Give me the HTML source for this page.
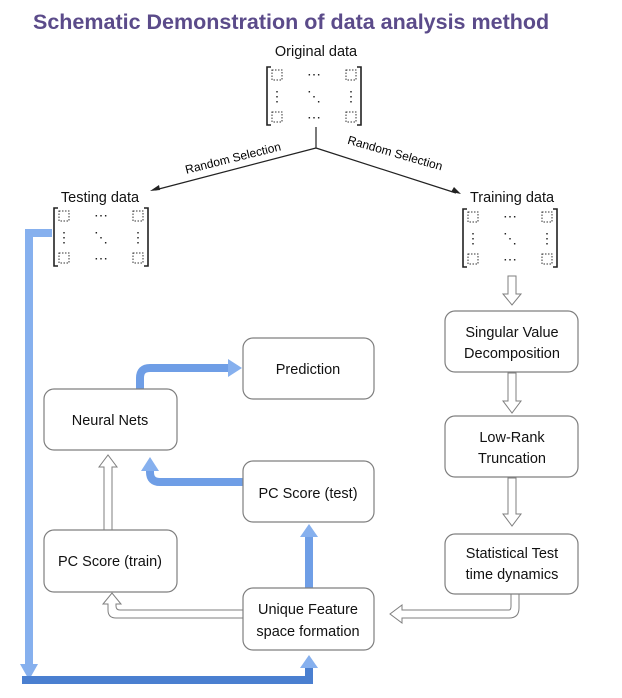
<!DOCTYPE html>
<html><head><meta charset="utf-8"><style>
html,body{margin:0;padding:0;background:#fff;}
svg{display:block;font-family:"Liberation Sans",sans-serif;}
.bx{fill:#fff;stroke:#7f7f7f;stroke-width:1.2;}
.t{font-size:14.5px;fill:#111;text-anchor:middle;}
.ho{fill:#fff;stroke:#7f7f7f;stroke-width:1;}
.bl{fill:none;stroke:#6f9ee6;stroke-width:8;}
</style></head><body>
<svg width="622" height="698" viewBox="0 0 622 698">
<defs>
<g id="m">
<path d="M5 0 H1 V58 H5 M91 0 H95 V58 H91" fill="none" stroke="#222" stroke-width="1.6"/>
<g fill="none" stroke="#333" stroke-width="1" stroke-dasharray="1.5,1.5">
<rect x="6" y="3" width="10" height="10"/><rect x="80" y="3" width="10" height="10"/>
<rect x="6" y="45" width="10" height="10"/><rect x="80" y="45" width="10" height="10"/>
</g>
<g fill="#222" font-size="14" text-anchor="middle">
<text x="48" y="12">⋯</text><text x="48" y="55">⋯</text>
<text x="11" y="34">⋮</text><text x="85" y="34">⋮</text><text x="48" y="34">⋱</text>
</g>
</g>
</defs>
<text x="33" y="29" font-size="21.5" font-weight="bold" fill="#5b4b8a">Schematic Demonstration of data analysis method</text>
<text x="316" y="56" class="t">Original data</text>
<use href="#m" x="266" y="67"/>
<text x="100" y="202" class="t">Testing data</text>
<use href="#m" x="53" y="208"/>
<text x="512" y="202" class="t">Training data</text>
<use href="#m" x="462" y="209"/>
<path d="M316 127 V148 L155 190 M316 148 L456 193" stroke="#222" stroke-width="1.2" fill="none"/>
<path d="M150 191 l9 -6 l1 5 z M461 194 l-10 -2 l3 -5 z" fill="#222"/>
<text transform="translate(234,162) rotate(-14)" font-size="12" text-anchor="middle">Random Selection</text>
<text transform="translate(394,157) rotate(16)" font-size="12" text-anchor="middle">Random Selection</text>
<!-- blue connectors -->
<path class="bl" d="M52 233 H29 V668" style="stroke:#86b0ee"/>
<path d="M20 664 H38 L29 680 Z" fill="#86b0ee"/>
<path class="bl" d="M22 680 H309 V668" style="stroke:#4a7fd0"/>
<path d="M300 668 H318 L309 655 Z" fill="#86b0ee"/>
<path class="bl" d="M309 588 V535"/>
<path d="M300 537 H318 L309 524 Z" fill="#86b0ee"/>
<path class="bl" d="M243 482 H160 Q150 482 150 472 V470"/>
<path d="M141 471 H159 L150 457 Z" fill="#86b0ee"/>
<path class="bl" d="M140 389 V378 Q140 368 150 368 H229"/>
<path d="M228 359 V377 L242 368 Z" fill="#86b0ee"/>
<!-- hollow arrows -->
<path class="ho" d="M508 276 H516 V294 H521 L512 305 L503 294 H508 Z"/>
<path class="ho" d="M508 373 H516 V401 H521 L512 413 L503 401 H508 Z"/>
<path class="ho" d="M508 478 H516 V514 H521 L512 526 L503 514 H508 Z"/>
<path class="ho" d="M104 530 H112 V467 H117 L108 455 L99 467 H104 Z"/>
<path class="ho" d="M511 594 H519 V608 Q519 618 509 618 H402 V623 L390 614 L402 605 V610 H509 Q511 610 511 606 Z"/>
<path class="ho" d="M243 610 H120 Q116 610 116 606 V604 H121 L112 593 L103 604 H108 V610 Q108 618 116 618 H243 Z"/>
<!-- boxes -->
<rect class="bx" x="243" y="338" width="131" height="61" rx="10"/>
<text x="308" y="374" class="t">Prediction</text>
<rect class="bx" x="44" y="389" width="133" height="61" rx="10"/>
<text x="110" y="425" class="t">Neural Nets</text>
<rect class="bx" x="243" y="461" width="131" height="61" rx="10"/>
<text x="308" y="498" class="t">PC Score (test)</text>
<rect class="bx" x="44" y="530" width="133" height="62" rx="10"/>
<text x="110" y="566" class="t">PC Score (train)</text>
<rect class="bx" x="243" y="588" width="131" height="62" rx="10"/>
<text x="308" y="614" class="t">Unique Feature</text>
<text x="308" y="636" class="t">space formation</text>
<rect class="bx" x="445" y="311" width="133" height="61" rx="10"/>
<text x="512" y="337" class="t">Singular Value</text>
<text x="512" y="358" class="t">Decomposition</text>
<rect class="bx" x="445" y="416" width="133" height="61" rx="10"/>
<text x="512" y="442" class="t">Low-Rank</text>
<text x="512" y="463" class="t">Truncation</text>
<rect class="bx" x="445" y="534" width="133" height="60" rx="10"/>
<text x="512" y="558" class="t">Statistical Test</text>
<text x="512" y="579" class="t">time dynamics</text>
</svg>
</body></html>
